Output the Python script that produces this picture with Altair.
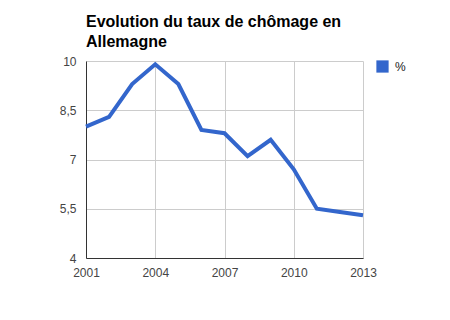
import altair as alt
import pandas as pd

years = [2001, 2002, 2003, 2004, 2005, 2006, 2007, 2008, 2009, 2010, 2011, 2012, 2013]
rates = [8.0, 8.3, 9.3, 9.9, 9.3, 7.9, 7.8, 7.1, 7.6, 6.7, 5.5, 5.4, 5.3]
series = ["%"] * len(years)
x_ticks = [2001, 2004, 2007, 2010, 2013]
y_ticks = [4, 5.5, 7, 8.5, 10]

df = pd.DataFrame({"annee": years, "taux": rates, "serie": series})

FONT = "Liberation Sans"

chart = alt.Chart(df).mark_line(strokeWidth=4, strokeCap="butt", strokeJoin="miter").encode(
    x=alt.X("annee:Q", scale=alt.Scale(domain=[2001, 2013], nice=False, zero=False),
            axis=alt.Axis(values=x_ticks, format="d", title=None, ticks=False,
                          labelPadding=9, labelFontSize=12, labelColor="#444",
                          labelFont=FONT, domainColor="#333", gridColor="#ccc",
                          labelFlush=False)),
    y=alt.Y("taux:Q", scale=alt.Scale(domain=[4, 10], nice=False, zero=False),
            axis=alt.Axis(values=y_ticks, title=None, ticks=False,
                          labelExpr="replace(format(datum.value, '~g'), '.', ',')",
                          labelPadding=10, labelFontSize=12, labelColor="#444",
                          labelFont=FONT, domainColor="#333", gridColor="#ccc")),
    color=alt.Color("serie:N", scale=alt.Scale(range=["#3366cc"]),
                    legend=alt.Legend(title=None, orient="none", legendX=290, legendY=-1,
                                      symbolType="square", symbolSize=150,
                                      symbolStrokeWidth=0, symbolFillColor="#3366cc",
                                      labelFontSize=12, labelFont=FONT, labelColor="#222",
                                      labelOffset=6)),
).properties(
    width=277,
    height=197,
    title=alt.TitleParams(["Evolution du taux de chômage en", "Allemagne"],
                          anchor="start", frame="group", fontSize=16, font=FONT,
                          fontWeight="bold", color="#000", lineHeight=20, offset=5),
    autosize=alt.AutoSizeParams(type="none"),
    padding={"left": 86, "top": 61, "right": 87, "bottom": 62},
).configure_view(stroke=None)

chart.save("out.html", embed_options={"renderer": "svg", "actions": False})
